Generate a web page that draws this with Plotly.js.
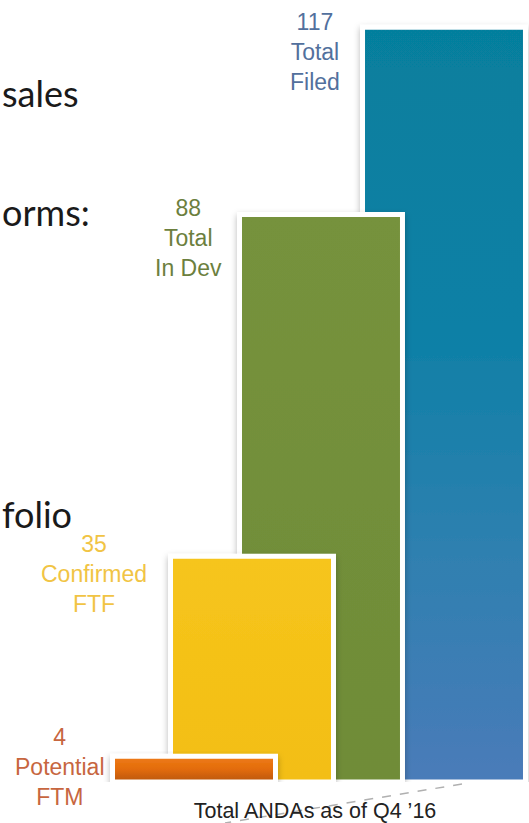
<!DOCTYPE html>
<html><head><meta charset="utf-8">
<script src="https://cdn.plot.ly/plotly-3.0.1.min.js"></script>
<style>html,body{margin:0;padding:0;background:#fff;overflow:hidden}#chart{width:529px;height:823px}</style>
</head><body><div id="chart"></div>
<script>
// ---- data ----
const category = "Total ANDAs as of Q4 \u201916";
const seriesNames = ["Total Filed", "Total In Dev", "Confirmed FTF", "Potential FTM"];
const seriesLabelLines = ["Total<br>Filed", "Total<br>In Dev", "Confirmed<br>FTF", "Potential<br>FTM"];
const seriesValues = [117, 88, 35, 4];
const slideTextFragments = ["sales", "orms:", "folio"];

// ---- styles / placement ----
const M = {l: 101, r: 0, t: 8, b: 41};
const W = 529, H = 823;
const plotW = W - M.l - M.r, plotH = H - M.t - M.b;
const style = {
  barColors: ["#1a7fa6", "#74903b", "#f5c21a", "#e36c0c"],
  labelColors: ["#52709d", "#6c7f3e", "#f1c444", "#c7663f"],
  offsets: [0.1110, -0.1764, -0.3376, -0.4731],
  width: 0.3808,
  labelShift: [[0, -24.5], [-127, -23.5], [-221, -18], [-255, -11]],
  slideText: [{left: 0, mid: 93}, {left: 0, mid: 212}, {left: 0, mid: 514}]
};
const px2x = px => (px - M.l) / plotW;
const px2y = py => (H - M.b - py) / plotH;

const traces = seriesNames.map((name, i) => ({
  type: 'bar',
  x: [category],
  y: [seriesValues[i]],
  name: name,
  offset: style.offsets[i],
  width: style.width,
  marker: {color: style.barColors[i], line: {color: '#ffffff', width: 5}},
  hoverinfo: 'skip'
}));

const annotations = seriesNames.map((name, i) => ({
  xref: 'x', yref: 'y', x: category, y: seriesValues[i],
  text: seriesValues[i] + '<br>' + seriesLabelLines[i],
  showarrow: false, xanchor: 'center', yanchor: 'middle', align: 'center',
  xshift: style.labelShift[i][0], yshift: style.labelShift[i][1],
  font: {family: 'Liberation Sans, Arial, sans-serif', size: 23, color: style.labelColors[i]}
}));
slideTextFragments.forEach((t, i) => {
  annotations.push({
    xref: 'paper', yref: 'paper',
    x: px2x(style.slideText[i].left), y: px2y(style.slideText[i].mid),
    text: t, showarrow: false, xanchor: 'left', yanchor: 'middle',
    font: {family: 'Lato, sans-serif', size: 36, color: '#1a1a1a'}
  });
});

const layout = {
  width: W, height: H,
  margin: M,
  paper_bgcolor: '#ffffff', plot_bgcolor: 'rgba(0,0,0,0)',
  barmode: 'overlay',
  showlegend: false,
  xaxis: {type: 'category', range: [-0.5, 0.5], showgrid: false, zeroline: false, showline: false,
          ticks: '', ticklabelstandoff: 13,
          tickfont: {family: 'Liberation Sans, Arial, sans-serif', size: 21.5, color: '#222222'}},
  yaxis: {range: [0, 120], showgrid: false, zeroline: false, showline: false, showticklabels: false, ticks: ''},
  shapes: [{type: 'line', xref: 'paper', yref: 'paper', layer: 'below',
            x0: px2x(462), y0: px2y(784), x1: px2x(225), y1: px2y(823),
            line: {color: '#b0b0b0', width: 1.5, dash: 'dash'}}],
  annotations: annotations
};

Plotly.newPlot('chart', traces, layout, {staticPlot: true, displayModeBar: false}).then(gd => {
  const NS = 'http://www.w3.org/2000/svg';
  const svg = gd.querySelector('svg.main-svg');
  let defs = svg.querySelector('defs');
  const mk = (tag, attrs, parent) => { const e = document.createElementNS(NS, tag); for (const k in attrs) e.setAttribute(k, attrs[k]); parent.appendChild(e); return e; };
  const grads = [
    ['gBlue', [['0', '#067f9d'], ['0.4', '#0d80a6'], ['0.7', '#2f80b0'], ['1', '#4a7bb9']]],
    ['gGreen', [['0', '#76923c'], ['1', '#6f8c38']]],
    ['gYellow', [['0', '#f6c51c'], ['1', '#f3be14']]],
    ['gOrange', [['0', '#ef7c18'], ['0.5', '#e36c0c'], ['1', '#b9560a']]]
  ];
  grads.forEach(([id, stops]) => {
    const g = mk('linearGradient', {id: id, x1: '0', y1: '0', x2: '0', y2: '1'}, defs);
    stops.forEach(([o, c]) => mk('stop', {offset: o, 'stop-color': c}, g));
  });
  const f = mk('filter', {id: 'barShadow', x: '-20%', y: '-20%', width: '140%', height: '140%'}, defs);
  mk('feDropShadow', {dx: '0', dy: '3', stdDeviation: '3', 'flood-color': '#000', 'flood-opacity': '0.28'}, f);
  const tr = gd.querySelectorAll('.barlayer .trace');
  tr.forEach((t, i) => {
    t.querySelectorAll('path').forEach(p => {
      p.style.fill = 'url(#' + grads[i][0] + ')';
      p.setAttribute('filter', 'url(#barShadow)');
    });
  });
});
</script>
</body></html>
